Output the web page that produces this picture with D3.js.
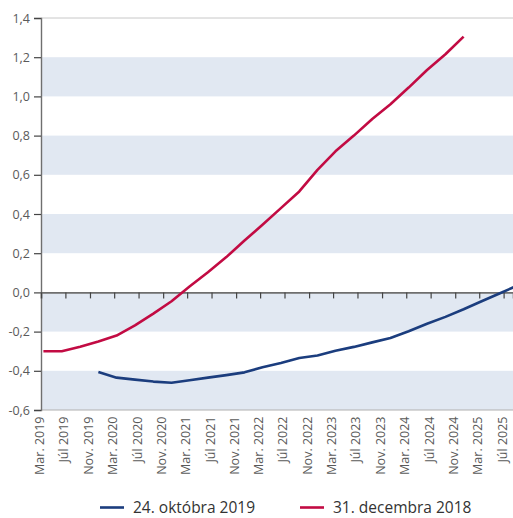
<!DOCTYPE html>
<html><head><meta charset="utf-8">
<script src="https://cdn.jsdelivr.net/npm/d3@7"></script>
<style>body{margin:0;background:#fff} text{font-family:"Open Sans",sans-serif}</style>
</head><body><svg id="c" width="513" height="518"></svg>
<script>
const seriesNames = ["24. októbra 2019", "31. decembra 2018"];
const seriesColors = ["#1b3d7e", "#c20b43"];

const redDates = ["2019-03-13","2019-06-13","2019-09-13","2019-12-13","2020-03-13","2020-06-13","2020-09-13","2020-12-13",
  "2021-03-13","2021-06-13","2021-09-13","2021-12-13","2022-03-13","2022-06-13","2022-09-13","2022-12-13",
  "2023-03-13","2023-06-13","2023-09-13","2023-12-13","2024-03-13","2024-06-13","2024-09-13","2024-12-13"];
const redValues = [-0.30,-0.30,-0.277,-0.25,-0.22,-0.168,-0.108,-0.045,
  0.030,0.103,0.18,0.265,0.345,0.43,0.515,0.625,
  0.72,0.80,0.885,0.96,1.045,1.135,1.215,1.305];

const blueDates = ["2019-12-13","2020-03-13","2020-06-13","2020-09-13","2020-12-13","2021-03-13","2021-06-13","2021-09-13",
  "2021-12-13","2022-03-13","2022-06-13","2022-09-13","2022-12-13","2023-03-13","2023-06-13","2023-09-13",
  "2023-12-13","2024-03-13","2024-06-13","2024-09-13","2024-12-13","2025-03-13","2025-06-13","2025-09-13"];
const blueValues = [-0.406,-0.435,-0.445,-0.455,-0.461,-0.448,-0.435,-0.422,
  -0.408,-0.382,-0.36,-0.335,-0.322,-0.298,-0.278,-0.255,
  -0.233,-0.198,-0.16,-0.125,-0.086,-0.045,-0.004,0.037];

const xTickDates = ["2019-03-01","2019-07-01","2019-11-01","2020-03-01","2020-07-01","2020-11-01","2021-03-01","2021-07-01",
  "2021-11-01","2022-03-01","2022-07-01","2022-11-01","2023-03-01","2023-07-01","2023-11-01","2024-03-01",
  "2024-07-01","2024-11-01","2025-03-01","2025-07-01"];
const xTickLabels = ["Mar. 2019","Júl 2019","Nov. 2019","Mar. 2020","Júl 2020","Nov. 2020","Mar. 2021","Júl 2021",
  "Nov. 2021","Mar. 2022","Júl 2022","Nov. 2022","Mar. 2023","Júl 2023","Nov. 2023","Mar. 2024",
  "Júl 2024","Nov. 2024","Mar. 2025","Júl 2025"];
const xDomain = ["2019-03-01","2025-08-17"];
const yTicks = [-0.6,-0.4,-0.2,0,0.2,0.4,0.6,0.8,1.0,1.2,1.4];
const bands = [[-0.6,-0.4],[-0.2,0],[0.2,0.4],[0.6,0.8],[1.0,1.2]];

const parse = d3.utcParse("%Y-%m-%d");
const L = 41, R = 513, T = 18, B = 410;
const svg = d3.select("#c");
const x = d3.scaleUtc().domain(xDomain.map(parse)).range([L, R]);
const y = d3.scaleLinear().domain([-0.6, 1.4]).range([B, T]);

svg.append("defs").append("clipPath").attr("id","clip")
  .append("rect").attr("x", L).attr("y", 0).attr("width", R - L).attr("height", 518);

// bands
svg.append("g").selectAll("rect").data(bands).join("rect")
  .attr("x", L).attr("width", R - L)
  .attr("y", d => y(d[1])).attr("height", d => y(d[0]) - y(d[1]))
  .attr("fill", "#e1e8f2");

// top and bottom lines
svg.append("line").attr("x1", L).attr("x2", R).attr("y1", y(1.4)).attr("y2", y(1.4))
  .attr("stroke", "#c8c8c8").attr("stroke-width", 1);
svg.append("line").attr("x1", L).attr("x2", R).attr("y1", y(-0.6)).attr("y2", y(-0.6))
  .attr("stroke", "#b0b0b0").attr("stroke-width", 1);

// y axis
const yAxis = d3.axisLeft(y).tickValues(yTicks).tickSize(7).tickPadding(4)
  .tickFormat(d => d3.format(".1f")(d).replace(".", ",").replace("−", "-"));
const gy = svg.append("g").attr("transform", `translate(${L},0)`).call(yAxis);
gy.select(".domain").attr("stroke", "#6f6f6f").attr("stroke-width", 1.4);
gy.selectAll(".tick line").attr("stroke", "#444").attr("stroke-width", 1.2);
gy.selectAll(".tick text").attr("fill", "#5a5a5a").style("font-size", "12.5px").attr("font-family", "Open Sans");

// zero line with ticks
const xAxis = d3.axisBottom(x).tickValues(xTickDates.map(parse)).tickSize(6).tickFormat("");
const gx = svg.append("g").attr("transform", `translate(0,${y(0)})`).call(xAxis);
gx.select(".domain").attr("stroke", "#6f6f6f").attr("stroke-width", 1.6);
gx.selectAll(".tick line").attr("stroke", "#444").attr("stroke-width", 1.2);

// x labels
svg.append("g").selectAll("text").data(xTickDates).join("text")
  .attr("transform", (d) => `translate(${x(parse(d)) + 3},${B + 6.5}) rotate(-90)`)
  .attr("text-anchor", "end")
  .attr("fill", "#5a5a5a")
  .style("font-family", "'Liberation Sans Narrow', 'Open Sans', sans-serif")
  .style("font-size", "12.5px")
  .text((d, i) => xTickLabels[i]);

// lines
const line = d3.line().x(d => x(d[0])).y(d => y(d[1]));
const series = [
  {dates: blueDates, values: blueValues, color: seriesColors[0]},
  {dates: redDates, values: redValues, color: seriesColors[1]}
];
svg.append("g").attr("clip-path", "url(#clip)").selectAll("path").data(series).join("path")
  .attr("d", s => line(s.dates.map((d, i) => [parse(d), s.values[i]])))
  .attr("fill", "none").attr("stroke", s => s.color).attr("stroke-width", 2.6)
  .attr("stroke-linejoin", "round");

// legend
const legX = [100, 300];
const lg = svg.append("g").selectAll("g").data(seriesNames).join("g")
  .attr("transform", (d, i) => `translate(${legX[i]},507.5)`);
lg.append("line").attr("x1", 0).attr("x2", 24).attr("stroke", (d, i) => seriesColors[i]).attr("stroke-width", 2.6);
lg.append("text").attr("x", 33).attr("y", 5.5).attr("fill", "#333").style("font-size", "15.5px").text(d => d);
</script></body></html>
